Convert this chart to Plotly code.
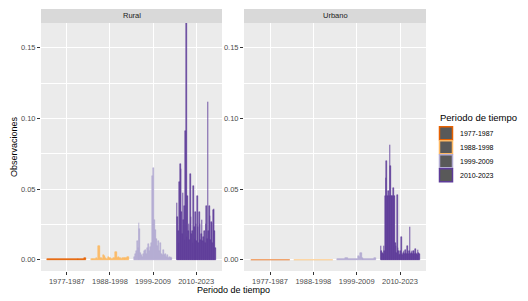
import plotly.graph_objects as go

# ---------------- data ----------------
periods = ["1977-1987", "1988-1998", "1999-2009", "2010-2023"]
period_colors = ["#E66101", "#FDB863", "#B2ABD2", "#5E3C99"]
facets = ["Rural", "Urbano"]

rural_1977_1987 = [0.0002, 0.0002, 0.0002, 0.0002, 0.0002, 0.0002, 0.0002, 0.0002, 0.0002, 0.0002,
                   0.0002, 0.0002, 0.0002, 0.0002, 0.0002, 0.0002, 0.0003, 0.0004, 0.0006, 0.0006,
                   0.0004, 0.0002, 0.0002, 0.0002, 0.0002, 0.0002, 0.0002, 0.0002, 0.0002, 0.0002,
                   0.0002, 0.0002, 0.0002, 0.0002, 0.0002, 0.0003, 0.0006, 0.0008, 0.0010, 0.0009]
rural_1988_1998 = [0.0003, 0.0003, 0.0004, 0.0004, 0.0008, 0.0005, 0.0010, 0.0008, 0.0098, 0.0095,
                   0.0010, 0.0012, 0.0008, 0.0030, 0.0028, 0.0010, 0.0007, 0.0008, 0.0020, 0.0012,
                   0.0009, 0.0007, 0.0006, 0.0009, 0.0015, 0.0058, 0.0052, 0.0010, 0.0016, 0.0009,
                   0.0010, 0.0008, 0.0012, 0.0010, 0.0014, 0.0013, 0.0015, 0.0014, 0.0016, 0.0018]
rural_1999_2009 = [0.002, 0.004, 0.006, 0.013, 0.008, 0.026, 0.022, 0.005, 0.003, 0.002,
                   0.004, 0.006, 0.007, 0.004, 0.008, 0.011, 0.006, 0.009, 0.012, 0.059,
                   0.065, 0.028, 0.021, 0.015, 0.010, 0.013, 0.006, 0.012, 0.004, 0.003,
                   0.007, 0.003, 0.004, 0.002, 0.003, 0.0015, 0.002, 0.0015, 0.002, 0.0015]
rural_2010_2023 = [0.040, 0.030, 0.020, 0.012, 0.055, 0.068, 0.064, 0.034, 0.018, 0.047,
                   0.028, 0.038, 0.014, 0.091, 0.168, 0.016, 0.045, 0.020, 0.025, 0.014,
                   0.061, 0.030, 0.018, 0.020, 0.012, 0.052, 0.023, 0.015, 0.034, 0.025,
                   0.013, 0.045, 0.023, 0.012, 0.034, 0.025, 0.014, 0.018, 0.028, 0.013,
                   0.016, 0.013, 0.020, 0.012, 0.025, 0.038, 0.015, 0.112, 0.020, 0.038,
                   0.031, 0.014, 0.027, 0.026, 0.012, 0.035, 0.036, 0.020, 0.008]

urbano_1977_1987 = [0.0001] * 40
urbano_1988_1998 = [0.0001] * 40
urbano_1999_2009 = [0.0004, 0.0005, 0.0004, 0.0006, 0.0005, 0.0004, 0.0006, 0.0005, 0.0012, 0.0012,
                    0.0010, 0.0006, 0.0005, 0.0006, 0.0007, 0.0006, 0.0007, 0.0005, 0.0006, 0.0005,
                    0.0008, 0.0024, 0.0022, 0.0047, 0.0045, 0.0012, 0.0007, 0.0006, 0.0007, 0.0005,
                    0.0006, 0.0005, 0.0007, 0.0006, 0.0005, 0.0006, 0.0005, 0.0007, 0.0009, 0.0012]
urbano_2010_2023 = [0.0094, 0.006, 0.004, 0.005, 0.004, 0.010, 0.006, 0.045, 0.058, 0.070,
                    0.045, 0.045, 0.049, 0.045, 0.081, 0.066, 0.045, 0.045, 0.045, 0.051,
                    0.045, 0.045, 0.012, 0.010, 0.005, 0.046, 0.008, 0.006, 0.003, 0.004,
                    0.006, 0.016, 0.004, 0.003, 0.005, 0.006, 0.004, 0.007, 0.005, 0.004,
                    0.0094, 0.006, 0.004, 0.006, 0.023, 0.004, 0.005, 0.006, 0.004, 0.006,
                    0.006, 0.004, 0.0075, 0.005, 0.004, 0.003, 0.007, 0.005, 0.004]

series = {
    "Rural": [rural_1977_1987, rural_1988_1998, rural_1999_2009, rural_2010_2023],
    "Urbano": [urbano_1977_1987, urbano_1988_1998, urbano_1999_2009, urbano_2010_2023],
}

y_ticks = [0.0, 0.05, 0.10, 0.15]
y_tick_labels = ["0.00", "0.05", "0.10", "0.15"]

# ---------------- layout geometry (pixels) ----------------
W, H = 528, 301
L, R, T, B = 41, 426, 9, 271
PW, PH = R - L, B - T


def fx(px):
    return (px - L) / PW


def fy(py):
    return (B - py) / PH


panel_top = 23
x_domains = [[fx(41), fx(222)], [fx(244), fx(426)]]
y_domain = [0, fy(panel_top)]

FONT = "Liberation Sans, Arial, sans-serif"
fig = go.Figure()

dodge = 0.9
for fi, facet in enumerate(facets):
    xa = "x" if fi == 0 else "x2"
    ya = "y" if fi == 0 else "y2"
    for pi, vals in enumerate(series[facet]):
        n = len(vals)
        w = dodge / n
        xs = [(pi + 1) - dodge / 2 + (j + 0.5) * w for j in range(n)]
        c = period_colors[pi]
        fig.add_trace(go.Bar(
            x=xs, y=vals, width=[w] * n, xaxis=xa, yaxis=ya,
            marker=dict(color=c, line=dict(color=c, width=0.5)),
            showlegend=False, hoverinfo="skip",
        ))

axis_common = dict(
    range=[0.4, 4.6], tickmode="array", tickvals=[1, 2, 3, 4], ticktext=periods,
    showgrid=True, gridcolor="white", gridwidth=1, zeroline=False,
    ticks="outside", ticklen=3, tickcolor="#333333", tickwidth=1,
    tickfont=dict(family=FONT, size=7.5, color="#4D4D4D"), showline=False,
)
yaxis_common = dict(
    range=[-0.008, 0.1676], tickmode="array", tickvals=y_ticks, ticktext=y_tick_labels,
    showgrid=True, gridcolor="white", gridwidth=1, zeroline=False,
    ticks="outside", ticklen=3, tickcolor="#333333", tickwidth=1,
    tickfont=dict(family=FONT, size=7.5, color="#4D4D4D"), showline=False,
    minor=dict(tickmode="array", tickvals=[0.025, 0.075, 0.125], showgrid=True,
               gridcolor="white", gridwidth=0.5, ticks=""),
    domain=y_domain,
)

fig.update_layout(
    width=W, height=H,
    margin=dict(l=L, r=W - R, t=T, b=H - B, pad=0),
    paper_bgcolor="white", plot_bgcolor="#EBEBEB",
    barmode="overlay", bargap=0,
    showlegend=False,
    xaxis=dict(domain=x_domains[0], anchor="y", **axis_common),
    xaxis2=dict(domain=x_domains[1], anchor="y2", **axis_common),
    yaxis=dict(anchor="x", **yaxis_common),
    yaxis2=dict(anchor="x2", **yaxis_common),
    font=dict(family=FONT),
)

shapes = []
annotations = []
# strips
for fi, facet in enumerate(facets):
    d = x_domains[fi]
    shapes.append(dict(type="rect", xref="paper", yref="paper", x0=d[0], x1=d[1],
                       y0=fy(panel_top), y1=fy(9), fillcolor="#D9D9D9", line=dict(width=0),
                       layer="below"))
    annotations.append(dict(text=facet, xref="paper", yref="paper", x=(d[0] + d[1]) / 2,
                            y=fy(16), xanchor="center", yanchor="middle", showarrow=False,
                            font=dict(family=FONT, size=7.5, color="#1A1A1A")))

# axis titles
annotations.append(dict(text="Periodo de tiempo", xref="paper", yref="paper", x=fx(233),
                        y=fy(289.5), xanchor="center", yanchor="middle", showarrow=False,
                        font=dict(family=FONT, size=9, color="black")))
annotations.append(dict(text="Observaciones", xref="paper", yref="paper", x=fx(14),
                        y=fy(147), xanchor="center", yanchor="middle", showarrow=False,
                        textangle=-90, font=dict(family=FONT, size=9, color="black")))

# legend (manual, ggplot style)
annotations.append(dict(text="Periodo de tiempo", xref="paper", yref="paper", x=fx(438),
                        y=fy(117), xanchor="left", yanchor="middle", showarrow=False,
                        font=dict(family=FONT, size=9.5, color="black")))
for i, (lab, c) in enumerate(zip(periods, period_colors)):
    cy = 133.3 + i * 14
    shapes.append(dict(type="rect", xref="paper", yref="paper", x0=fx(439.5), x1=fx(452.5),
                       y0=fy(cy - 6.5), y1=fy(cy + 6.5), fillcolor="#595959",
                       line=dict(color=c, width=1.5)))
    annotations.append(dict(text=lab, xref="paper", yref="paper", x=fx(457.5), y=fy(cy),
                            xanchor="left", yanchor="middle", showarrow=False,
                            font=dict(family=FONT, size=7, color="black")))

fig.update_layout(shapes=shapes, annotations=annotations)
fig.write_html("out.html", config={"displayModeBar": False},
               post_script="document.body.style.margin='0';document.body.style.padding='0';")
